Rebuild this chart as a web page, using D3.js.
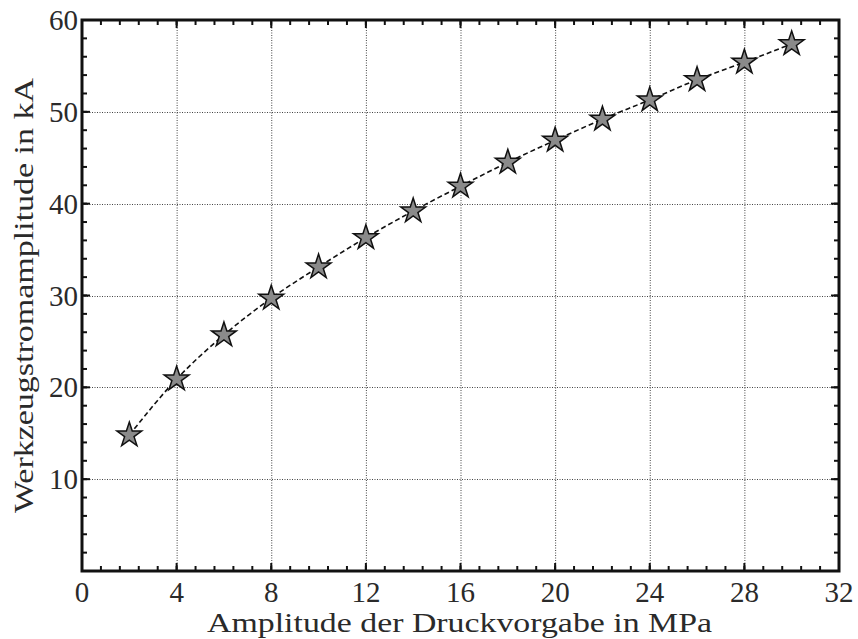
<!DOCTYPE html>
<html>
<head>
<meta charset="utf-8">
<script src="https://cdn.jsdelivr.net/npm/d3@7"></script>
<style>
  html, body { margin: 0; padding: 0; background: #fff; }
  svg { display: block; }
  text { font-family: "Liberation Serif", "DejaVu Serif", serif; fill: #2a2a2a; }
</style>
</head>
<body>
<svg id="chart" width="858" height="639"></svg>
<script>
// Pressure amplitude (MPa) and resulting tool current amplitude (kA)
const pressure = [2, 4, 6, 8, 10, 12, 14, 16, 18, 20, 22, 24, 26, 28, 30];
const current = [14.8, 20.9, 25.7, 29.7, 33.1, 36.3, 39.2, 41.9, 44.5, 46.9, 49.2, 51.3, 53.5, 55.4, 57.4];

const xTicks = [0, 4, 8, 12, 16, 20, 24, 28, 32];
const yTicks = [10, 20, 30, 40, 50, 60];
const xMinor = d3.range(0, 32.001, 0.8);
const yMinor = d3.range(0, 60.001, 2);

const svg = d3.select("#chart");
const m = { left: 82, right: 858 - 839, top: 20, bottom: 639 - 571 };
const W = 858 - m.left - m.right, H = 639 - m.top - m.bottom;

const x = d3.scaleLinear().domain([0, 32]).range([m.left, m.left + W]);
const y = d3.scaleLinear().domain([0, 60]).range([m.top + H, m.top]);

// grid
const grid = svg.append("g").attr("stroke", "#444").attr("stroke-width", 1)
  .attr("stroke-dasharray", "1,1.5");
grid.selectAll(".gx").data(xTicks.slice(1, -1)).join("line")
  .attr("x1", d => x(d) + 0.5).attr("x2", d => x(d) + 0.5)
  .attr("y1", m.top).attr("y2", m.top + H);
grid.selectAll(".gy").data(yTicks.slice(0, -1)).join("line")
  .attr("y1", d => Math.round(y(d)) + 0.5).attr("y2", d => Math.round(y(d)) + 0.5)
  .attr("x1", m.left).attr("x2", m.left + W);

// ticks on all four sides, pointing inward
const tk = svg.append("g").attr("stroke", "#111").attr("stroke-width", 2);
function ticksX(vals, len) {
  vals.forEach(v => {
    tk.append("line").attr("x1", x(v)).attr("x2", x(v)).attr("y1", m.top + H).attr("y2", m.top + H - len);
    tk.append("line").attr("x1", x(v)).attr("x2", x(v)).attr("y1", m.top).attr("y2", m.top + len);
  });
}
function ticksY(vals, len) {
  vals.forEach(v => {
    tk.append("line").attr("y1", y(v)).attr("y2", y(v)).attr("x1", m.left).attr("x2", m.left + len);
    tk.append("line").attr("y1", y(v)).attr("y2", y(v)).attr("x1", m.left + W).attr("x2", m.left + W - len);
  });
}
ticksX(xMinor, 5);
ticksX(xTicks, 8);
ticksY(yMinor, 5);
ticksY(yTicks, 8);

// frame
svg.append("rect").attr("x", m.left).attr("y", m.top).attr("width", W).attr("height", H)
  .attr("fill", "none").attr("stroke", "#111").attr("stroke-width", 3);

// tick labels
svg.selectAll(".xl").data(xTicks).join("text")
  .attr("x", d => x(d)).attr("y", m.top + H + 31)
  .attr("text-anchor", "middle").attr("font-size", 29).text(d => d);
svg.selectAll(".yl").data(yTicks).join("text")
  .attr("x", m.left - 4).attr("y", d => y(d) + 10)
  .attr("text-anchor", "end").attr("font-size", 29).text(d => d);

// axis titles
svg.append("text").attr("x", 207).attr("y", 632)
  .attr("font-size", 27).attr("textLength", 505).attr("lengthAdjust", "spacingAndGlyphs")
  .text("Amplitude der Druckvorgabe in MPa");
svg.append("text").attr("transform", "translate(33,513) rotate(-90)")
  .attr("font-size", 27).attr("textLength", 435).attr("lengthAdjust", "spacingAndGlyphs")
  .text("Werkzeugstromamplitude in kA");

// dashed connecting line
const line = d3.line().x((d, i) => x(pressure[i])).y(d => y(d)).curve(d3.curveMonotoneX);
svg.append("path").datum(current).attr("d", line)
  .attr("fill", "none").attr("stroke", "#111").attr("stroke-width", 1.6)
  .attr("stroke-dasharray", "5,3");

// star markers
const star = d3.symbol().type(d3.symbolStar).size(190);
svg.selectAll(".pt").data(current).join("path")
  .attr("d", star)
  .attr("transform", (d, i) => `translate(${x(pressure[i])},${y(d)})`)
  .attr("fill", "#8a8a8a").attr("stroke", "#111").attr("stroke-width", 1.5);
</script>
</body>
</html>
